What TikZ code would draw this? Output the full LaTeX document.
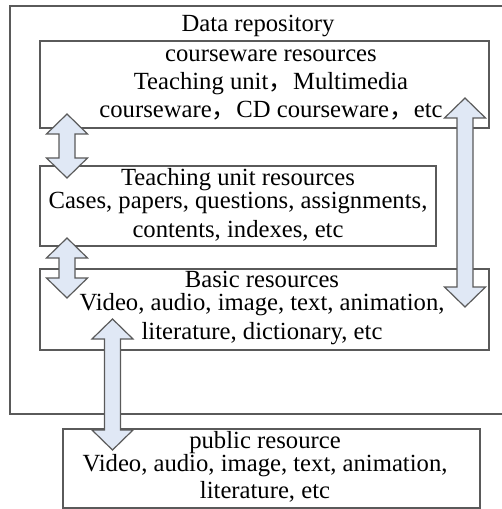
\documentclass[tikz,border=0pt]{standalone}
\usepackage{fontspec}
\setmainfont{Liberation Serif}
\newfontfamily\cjk{Noto Sans CJK SC}
\usepackage{xcolor}
\usepackage{tikz}
\usetikzlibrary{calc,fit}
\definecolor{arrowblue}{RGB}{224,232,245}
\definecolor{edgegray}{RGB}{90,90,90}

\tikzset{
  box/.style={draw=edgegray, line width=0.9pt, inner sep=0pt},
  txt/.style={align=center, inner sep=0pt, font=\fontsize{18.5}{21}\selectfont},
  flow/.style={draw=edgegray, fill=arrowblue, line width=0.9pt, line join=miter}
}
% two-headed block arrow between two named points (top, bottom)
\newcommand{\twoway}[2]{%
  \draw[flow] (#1) -- ++(20.5,20) -- ++(-12.5,0) -- ($(#2)+(8,-20)$)
    -- ++(12.5,0) -- (#2) -- ++(-20.5,-20) -- ++(12.5,0)
    -- ($(#1)+(-8,20)$) -- ++(-12.5,0) -- cycle;}
\newcommand{\fw}{{\cjk ，}}

\begin{document}
\begin{tikzpicture}[x=0.75pt, y=-0.75pt]
    \useasboundingbox (0,0) rectangle (501,509);

    % Repository frame
    \draw[box] (10,6) rectangle (503,414);
    \node[txt] (repo) at (258,26) {Data repository};

    % Boxes
    \node[box, fit={(40,41) (489,128)}] (course) {};
    \node[box, fit={(40,166) (436,246)}] (teach) {};
    \node[box, fit={(40,269) (489,350)}] (basic) {};
    \node[box, fit={(63,429) (480,508)}] (public) {};

    \node[txt] (coursetxt) at (271,85) {courseware resources\\
        Teaching unit\fw Multimedia\\
        courseware\fw CD courseware\fw etc};
    \node[txt] (teachtxt) at (238,205) {Teaching unit resources\\[-4pt]
        Cases, papers, questions, assignments,\\[0.5pt]
        contents, indexes, etc};
    \node[txt] (basictxt) at (262,308) {Basic resources\\[-4pt]
        Video, audio, image, text, animation,\\[0.5pt]
        literature, dictionary, etc};
    \node[txt] (publictxt) at (265,467) {public resource\\[-4pt]
        Video, audio, image, text, animation,\\[-1pt]
        literature, etc};

    % Arrow ends
    \coordinate (c1) at (67,114);
    \coordinate (t1) at (67,178);
    \coordinate (t2) at (67,238);
    \coordinate (b2) at (67,298);
    \coordinate (c3) at (465,98);
    \coordinate (b3) at (465,307);
    \coordinate (b4) at (112.5,319);
    \coordinate (p4) at (112.5,450);

    \twoway{c1}{t1}
    \twoway{t2}{b2}
    \twoway{c3}{b3}
    \twoway{b4}{p4}
\end{tikzpicture}
\end{document}
